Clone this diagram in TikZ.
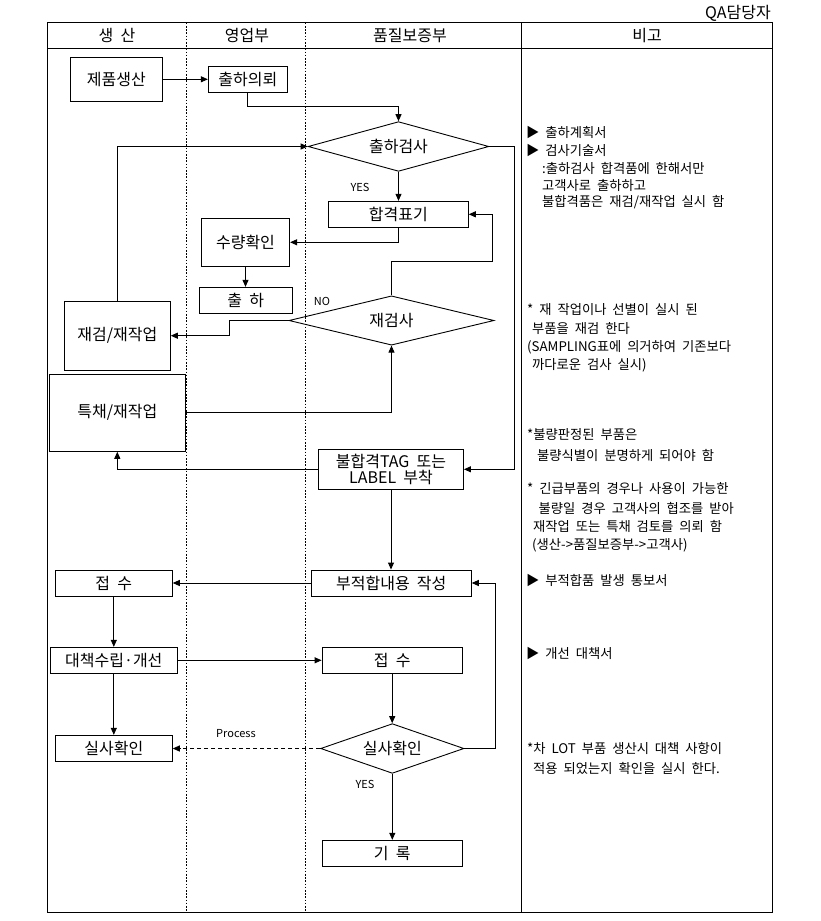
\documentclass[tikz,border=0pt]{standalone}
\usepackage{fontspec}
\setmainfont{Noto Sans CJK KR}[WordSpace=2]
\usetikzlibrary{arrows.meta,shapes.geometric}
\begin{document}
\begin{tikzpicture}[x=1pt,y=-1pt,
  box/.style={draw, line width=0.9pt, rectangle, inner sep=0pt, align=center, font=\fontsize{16}{16.5}\selectfont},
  dia/.style={draw, line width=0.9pt, diamond, aspect=4, inner sep=0pt, font=\fontsize{16}{16.5}\selectfont},
  arr/.style={line width=0.9pt, -{Triangle[length=7pt,width=6pt]}},
  note/.style={anchor=west, inner sep=0pt, font=\fontsize{13.3}{14}\selectfont},
  lbl/.style={inner sep=0pt, font=\fontsize{11}{12}\selectfont},
  head/.style={inner sep=0pt, font=\fontsize{16}{16.5}\selectfont},
  lane/.style={line width=0.8pt, dash pattern=on 1.6pt off 1.6pt}]
\useasboundingbox (0,0) rectangle (820,921);
% frame
\draw[line width=1pt] (47.3,22.7) rectangle (772.3,912.3);
\draw[line width=1pt] (47.3,48.3) -- (772.3,48.3);
\draw[line width=1pt] (521,22.7) -- (521,912.3);
\draw[lane] (186.3,22.7) -- (186.3,912.3);
\draw[lane] (305.3,22.7) -- (305.3,912.3);
% headers
\node[head, anchor=east] (qa) at (771,13) {QA담당자};
\node[head] (h1) at (117,35.7) {생 산};
\node[head] (h2) at (247,35.7) {영업부};
\node[head] (h3) at (410,35.7) {품질보증부};
\node[head] (h4) at (647,35.7) {비고};
% nodes
\node[box, minimum width=92pt, minimum height=44pt] (prod) at (116.3,79.3) {제품생산};
\node[box, minimum width=79pt, minimum height=25.6pt] (req) at (247.8,79.5) {출하의뢰};
\node[dia, minimum width=180.7pt, minimum height=49.7pt] (insp) at (398.5,146.5) {출하검사};
\node[box, minimum width=140pt, minimum height=26pt] (pass) at (398.3,214.3) {합격표기};
\node[box, minimum width=88.3pt, minimum height=48pt] (qty) at (245.5,242.3) {수량확인};
\node[box, minimum width=93pt, minimum height=26pt] (ship) at (245.8,300.3) {출 하};
\node[dia, minimum width=205pt, minimum height=49.3pt] (reinsp) at (391.5,320.5) {재검사};
\node[box, minimum width=106pt, minimum height=69.3pt] (rework) at (117.3,335.7) {재검/재작업};
\node[box, minimum width=136pt, minimum height=77pt] (special) at (117.3,412.8) {특채/재작업};
\node[box, minimum width=145pt, minimum height=40pt] (tag) at (391,469.3) {불합격TAG 또는\\LABEL 부착};
\node[box, minimum width=160pt, minimum height=26pt] (ncr) at (391.3,583) {부적합내용 작성};
\node[box, minimum width=117pt, minimum height=26pt] (recv1) at (113.8,583.2) {접 수};
\node[box, minimum width=127pt, minimum height=26pt] (plan) at (113.8,660.3) {대책수립·개선};
\node[box, minimum width=140.3pt, minimum height=26pt] (recv2) at (392.2,660.3) {접 수};
\node[box, minimum width=117pt, minimum height=26pt] (chk1) at (113.8,748.3) {실사확인};
\node[dia, minimum width=143.3pt, minimum height=49.7pt] (chk2) at (392.3,748.5) {실사확인};
\node[box, minimum width=140.3pt, minimum height=26pt] (rec) at (392.2,853.3) {기 록};
% labels
\node[lbl] (yes1) at (360,187.7) {YES};
\node[lbl] (no1) at (322,301.7) {NO};
\node[lbl] (proc) at (236,733.3) {Process};
\node[lbl] (yes2) at (365,784.3) {YES};
% helper coordinates
\coordinate (c1) at (492.3,261.3);
\coordinate (c2) at (229.3,320.5);
% connectors
\draw[arr] (prod.east) -- (prod.east -| req.west);
\draw[arr] (req.south) -- ++(0,14) -| (insp.north);
\draw[arr] (rework.north) |- (insp.west);
\draw[arr] (insp.east) -- ++(25,0) |- (tag.east);
\draw[arr] (insp.south) -- (insp.south |- pass.north);
\draw[arr] (pass.south) |- (qty.east);
\draw[arr] (qty.south) -- (qty.south |- ship.north);
\draw[arr] (reinsp.north) |- (c1) |- (pass.east);
\draw[arr] (reinsp.west) -- (c2) |- (rework.east);
\draw[arr] (special.east) -| (reinsp.south);
\draw[arr] (tag.west) -| (special.south);
\draw[arr] (tag.south) -- (tag.south |- ncr.north);
\draw[arr] (ncr.west) -- (ncr.west -| recv1.east);
\draw[arr] (recv1.south) -- (recv1.south |- plan.north);
\draw[arr] (plan.east) -- (plan.east -| recv2.west);
\draw[arr] (plan.south) -- (plan.south |- chk1.north);
\draw[arr] (recv2.south) -- (recv2.south |- chk2.north);
\draw[arr, dash pattern=on 4pt off 3pt] (chk2.west) -- (chk2.west -| chk1.east);
\draw[arr] (chk2.east) -- ++(31,0) |- (ncr.east);
\draw[arr] (chk2.south) -- (chk2.south |- rec.north);
% notes
\node[note] (n1) at (526,132.7) {▶ 출하계획서};
\node[note] (n2) at (526,150.7) {▶ 검사기술서};
\node[note] (n3) at (542,168.3) {:출하검사 합격품에 한해서만};
\node[note] (n4) at (542,185.3) {고객사로 출하하고};
\node[note] (n5) at (542,202.3) {불합격품은 재검/재작업 실시 함};
\node[note] (n6) at (527,310) {* 재 작업이나 선별이 실시 된};
\node[note] (n7) at (532,328.3) {부품을 재검 한다};
\node[note] (n8) at (527,347.3) {(SAMPLING표에 의거하여 기존보다};
\node[note] (n9) at (532,365) {까다로운 검사 실시)};
\node[note] (n10) at (527,435) {*불량판정된 부품은};
\node[note] (n11) at (537,455) {불량식별이 분명하게 되어야 함};
\node[note] (n12) at (527,488.3) {* 긴급부품의 경우나 사용이 가능한};
\node[note] (n13) at (538.5,508.3) {불량일 경우 고객사의 협조를 받아};
\node[note] (n14) at (533,526.7) {재작업 또는 특채 검토를 의뢰 함};
\node[note] (n15) at (532,545.7) {(생산->품질보증부->고객사)};
\node[note] (n16) at (526,580) {▶ 부적합품 발생 통보서};
\node[note] (n17) at (526,653.3) {▶ 개선 대책서};
\node[note] (n18) at (527,748.3) {*차 LOT 부품 생산시 대책 사항이};
\node[note] (n19) at (533,768.3) {적용 되었는지 확인을 실시 한다.};
\end{tikzpicture}
\end{document}
